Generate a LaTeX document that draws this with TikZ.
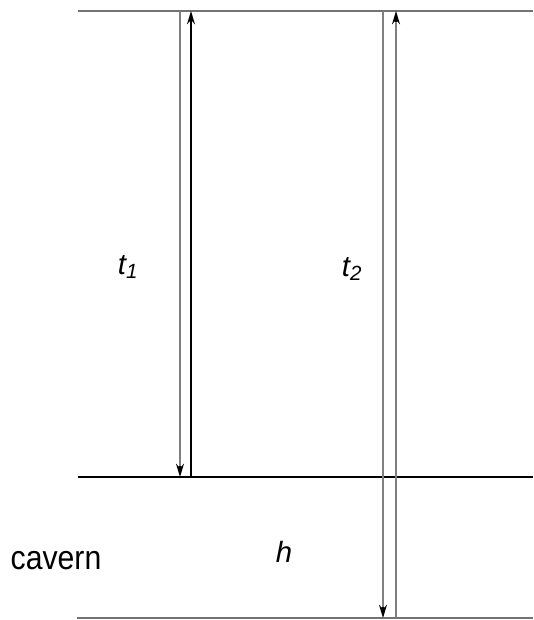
\documentclass[tikz,border=0pt]{standalone}
\usepackage{fontspec}
\setmainfont{Liberation Sans}
\usetikzlibrary{arrows.meta}
\begin{document}
\begin{tikzpicture}[x=0.75pt,y=-0.75pt,
  level/.style={line width=1.5pt},
  ray/.style={line width=1pt,-{Stealth[length=10pt,width=6pt]}},
  grayshaft/.style={black!50,line width=2.2pt,shorten >=8pt},
  lbl/.style={inner sep=0pt,font=\fontsize{22}{26}\selectfont\itshape},
  txt/.style={inner sep=0pt,font=\fontsize{22}{26}\selectfont}]
\useasboundingbox (0,0) rectangle (533,620);
% levels
\coordinate (TL) at (78,11);  \coordinate (TR) at (533,11);
\coordinate (ML) at (78,477); \coordinate (MR) at (533,477);
\coordinate (BL) at (77,618); \coordinate (BR) at (533,618);
\draw[level,black!55] (TL) -- (TR);
\draw[level,black] (ML) -- (MR);
\draw[level,black!55] (BL) -- (BR);
% ray endpoints
\coordinate (a1) at (180,11); \coordinate (a2) at (180,477);
\coordinate (b1) at (191,477); \coordinate (b2) at (191,11);
\coordinate (c1) at (383,11); \coordinate (c2) at (383,618);
\coordinate (d1) at (396,618); \coordinate (d2) at (396,11);
\draw[ray,black] (a1) -- (a2);
\draw[grayshaft] (a1) -- (a2);
\draw[ray,black] (b1) -- (b2);
\draw[ray,black] (c1) -- (c2);
\draw[grayshaft] (c1) -- (c2);
\draw[ray,black] (d1) -- (d2);
\draw[grayshaft] (d1) -- (d2);
% labels
\node[lbl] (t1) at (128,267) {t\textsubscript{1}};
\node[lbl] (t2) at (352,269) {t\textsubscript{2}};
\node[lbl] (h) at (284,552) {h};
\node[txt,yscale=1.15,xscale=1.03] (cav) at (56,561) {cavern};
\end{tikzpicture}
\end{document}
